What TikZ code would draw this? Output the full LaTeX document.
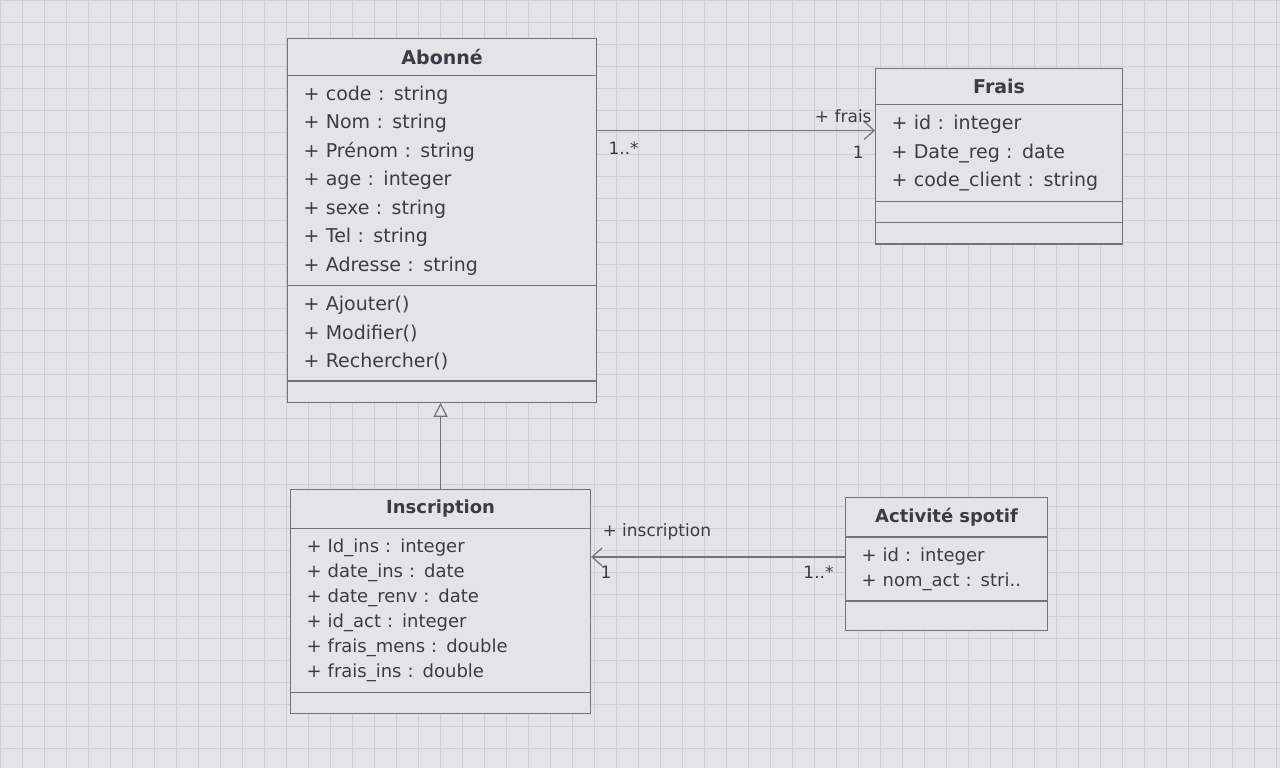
\documentclass[tikz,border=0pt]{standalone}
\usepackage{fontspec}
\setmainfont{DejaVu Sans}
\usetikzlibrary{positioning,arrows.meta,shapes.multipart}

\definecolor{screenbg}{RGB}{226,229,230}
\definecolor{gridline}{RGB}{202,208,212}
\definecolor{umlline}{RGB}{112,116,120}
\definecolor{umltext}{RGB}{58,62,68}

\newcommand{\umltitre}[1]{\centering\textbf{#1}\par}

\tikzset{
  umlclass/.style={draw=umlline,fill=screenbg,line width=0.6pt,text=umltext,
    rectangle split,anchor=north west,inner xsep=8pt,inner ysep=5pt,
    font=\fontsize{9.5}{14.25}\selectfont},
  smallclass/.style={umlclass,font=\fontsize{9}{12.5}\selectfont},
  assoc/.style={draw=umlline,line width=0.6pt,-{Straight Barb[length=5pt,width=9pt]}},
  heritage/.style={draw=umlline,line width=0.6pt,-{Triangle[open,length=7pt,width=7pt,fill=screenbg]}},
  mult/.style={text=umltext,font=\fontsize{8.5}{10}\selectfont,inner sep=1.5pt}
}

\begin{document}
\begin{tikzpicture}[x=0.5pt,y=-0.5pt]
    \useasboundingbox (0,0) rectangle (1280,768);
    % fond quadrille de l'ecran
    \fill[screenbg] (0,0) rectangle (1280,768);
    \draw[gridline,line width=0.4pt,step=11pt] (0,0) grid (1280,768);

    % classes
    \node[umlclass,rectangle split parts=4,text width=138.5pt] (abonne) at (287,38)
      {\umltitre{Abonné}
       \nodepart{two}+ code : string\\+ Nom : string\\+ Prénom : string\\+ age : integer\\+ sexe : string\\+ Tel : string\\+ Adresse : string
       \nodepart{three}+ Ajouter()\\+ Modifier()\\+ Rechercher()
       \nodepart{four}};
    \node[umlclass,rectangle split parts=4,text width=107.5pt] (frais) at (875,68)
      {\umltitre{Frais}
       \nodepart{two}+ id : integer\\+ Date\_reg : date\\+ code\_client : string
       \nodepart{three}
       \nodepart{four}};
    \node[smallclass,rectangle split parts=3,text width=134pt] (inscription) at (290,489)
      {\umltitre{Inscription}
       \nodepart{two}+ Id\_ins : integer\\+ date\_ins : date\\+ date\_renv : date\\+ id\_act : integer\\+ frais\_mens : double\\+ frais\_ins : double
       \nodepart{three}};
    \node[smallclass,rectangle split parts=3,text width=85pt] (activite) at (845,497)
      {\umltitre{Activité spotif}
       \nodepart{two}+ id : integer\\+ nom\_act : stri..
       \nodepart{three}\rule{0pt}{4pt}};

    % liens
    \coordinate (fraisin) at ([yshift=-13pt]frais.text split west);
    \coordinate (actout) at ([yshift=-10pt]activite.text split west);
    \draw[assoc] (abonne.east |- fraisin) -- (fraisin);
    \draw[assoc] (actout) -- (inscription.east |- actout);
    \draw[heritage] (inscription.north) -- (inscription.north |- abonne.south);

    % roles et multiplicites
    \node[mult,above left=2pt and 0pt of fraisin] (fraisrole) {+ frais};
    \node[mult,below left=6pt and 4pt of fraisin] (fraisun) {1};
    \node[mult,below right=4pt and 4pt of abonne.east |- fraisin] (abonneplus) {1..*};
    \node[mult,above right=7pt and 4pt of inscription.east |- actout] (insrole) {+ inscription};
    \node[mult,below right=3pt and 3pt of inscription.east |- actout] (insun) {1};
    \node[mult,below left=3pt and 4pt of actout] (actplus) {1..*};
\end{tikzpicture}
\end{document}
